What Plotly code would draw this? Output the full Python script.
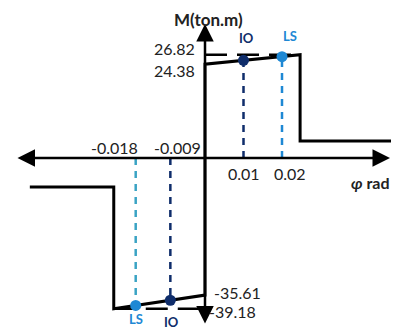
import plotly.graph_objects as go

# ---- data ----
rot_ticks = [-0.018, -0.009, 0.01, 0.02]
rot_labels = ["-0.018", "-0.009", "0.01", "0.02"]
moment_levels = [26.82, 24.38, -35.61, -39.18]
moment_labels = ["26.82", "24.38", "-35.61", "-39.18"]

pos_curve_x = [0, 0, 0.0247, 0.0247, 0.0496]
pos_curve_y = [0, 24.38, 26.82, 4.4, 4.4]
neg_curve_x = [0, 0, -0.0237, -0.0237, -0.0455]
neg_curve_y = [0, -35.61, -39.18, -7.5, -7.5]

ult_pos_x = [0, 0.0247]
ult_neg_x = [-0.0237, 0]

io_pos = (0.01, 25.36)
ls_pos = (0.02, 26.33)
io_neg = (-0.009, -36.95)
ls_neg = (-0.018, -38.29)

NAVY = "#0F2D6B"
BLUE = "#1E88D4"
TEAL = "#3AA3C4"
FONT = "Lato"

# page offset of the plot div (body margin)
OFF = 8
SX = 3850.0   # px per rad
SY = 3.85     # px per ton.m
X0, Y0 = 205, 158  # page pixel of origin

X_RANGE = [(OFF - X0) / SX, (399 - X0) / SX]
Y_RANGE = [-(331 - Y0) / SY, (Y0 - OFF) / SY]

fig = go.Figure()

# dashed verticals to the performance points
for (px, py), col in [(io_pos, NAVY), (ls_pos, BLUE), (io_neg, NAVY), (ls_neg, TEAL)]:
    fig.add_trace(go.Scatter(x=[px, px], y=[0, py], mode="lines",
                             line=dict(color=col, width=2.5, dash="7px,6px"),
                             hoverinfo="skip", showlegend=False))

# dashed ultimate levels
fig.add_trace(go.Scatter(x=ult_pos_x, y=[moment_levels[0]] * 2, mode="lines",
                         line=dict(color="black", width=2.5, dash="22px,10px"),
                         hoverinfo="skip", showlegend=False))
fig.add_trace(go.Scatter(x=ult_neg_x, y=[moment_levels[3]] * 2, mode="lines",
                         line=dict(color="black", width=2.5, dash="22px,10px"),
                         hoverinfo="skip", showlegend=False))

# backbone curves
for cx, cy in [(pos_curve_x, pos_curve_y), (neg_curve_x, neg_curve_y)]:
    fig.add_trace(go.Scatter(x=cx, y=cy, mode="lines",
                             line=dict(color="black", width=3),
                             hoverinfo="skip", showlegend=False))

# points
for (px, py), col in [(io_pos, NAVY), (ls_pos, BLUE), (io_neg, NAVY), (ls_neg, BLUE)]:
    fig.add_trace(go.Scatter(x=[px], y=[py], mode="markers",
                             marker=dict(color=col, size=11),
                             hoverinfo="skip", showlegend=False))

ann = []
# axes with arrows
ann.append(dict(x=(390 - X0) / SX, y=0, ax=(16 - X0) / SX, ay=0,
                xref="x", yref="y", axref="x", ayref="y", text="",
                showarrow=True, arrowhead=2, arrowside="end+start",
                arrowsize=1.4, arrowwidth=2.5, arrowcolor="black"))
ann.append(dict(x=0, y=(Y0 - 24) / SY, ax=0, ay=-(325 - Y0) / SY,
                xref="x", yref="y", axref="x", ayref="y", text="",
                showarrow=True, arrowhead=2, arrowside="end+start",
                arrowsize=1.4, arrowwidth=2.5, arrowcolor="black"))

# x tick labels
x_shifts = [-21, 7, 0, 8]
for v, t, s in zip(rot_ticks, rot_labels, x_shifts):
    yshift = 11 if v < 0 else -15
    ann.append(dict(x=v, y=0, text=t, showarrow=False, xshift=s, yshift=yshift,
                    font=dict(family=FONT, size=16, color="#222222")))

# moment labels
m_cfg = [("right", -8, 6), ("right", -8, -6), ("left", 7, 3), ("left", 2, -3)]
for v, t, (anc, xs, ys) in zip(moment_levels, moment_labels, m_cfg):
    ann.append(dict(x=0, y=v, text=t, showarrow=False, xanchor=anc, xshift=xs, yshift=ys,
                    font=dict(family=FONT, size=16, color="#222222")))

# axis titles
ann.append(dict(x=0, y=(Y0 - 19) / SY, text="<b>M(ton.m)</b>", showarrow=False, xshift=3,
                font=dict(family=FONT, size=17, color="#222222")))
ann.append(dict(x=(392 - X0) / SX, y=-(182 - Y0) / SY, text="<b><i>φ</i> rad</b>",
                showarrow=False, xanchor="right",
                font=dict(family=FONT, size=16, color="#222222")))

# performance labels
ann.append(dict(x=io_pos[0], y=io_pos[1], text="<b>IO</b>", showarrow=False, yshift=22, xshift=3,
                font=dict(family=FONT, size=13, color=NAVY)))
ann.append(dict(x=ls_pos[0], y=ls_pos[1], text="<b>LS</b>", showarrow=False, yshift=21, xshift=8,
                font=dict(family=FONT, size=13, color=BLUE)))
ann.append(dict(x=io_neg[0], y=io_neg[1], text="<b>IO</b>", showarrow=False, yshift=-22, xshift=1,
                font=dict(family=FONT, size=13, color=NAVY)))
ann.append(dict(x=ls_neg[0], y=ls_neg[1], text="<b>LS</b>", showarrow=False, yshift=-14,
                font=dict(family=FONT, size=13, color=BLUE)))

fig.update_layout(
    width=399 - OFF, height=331 - OFF,
    margin=dict(l=0, r=0, t=0, b=0),
    paper_bgcolor="white", plot_bgcolor="white",
    xaxis=dict(range=X_RANGE, visible=False, fixedrange=True),
    yaxis=dict(range=Y_RANGE, visible=False, fixedrange=True),
    annotations=ann,
    showlegend=False,
)

fig.write_html("out.html")
